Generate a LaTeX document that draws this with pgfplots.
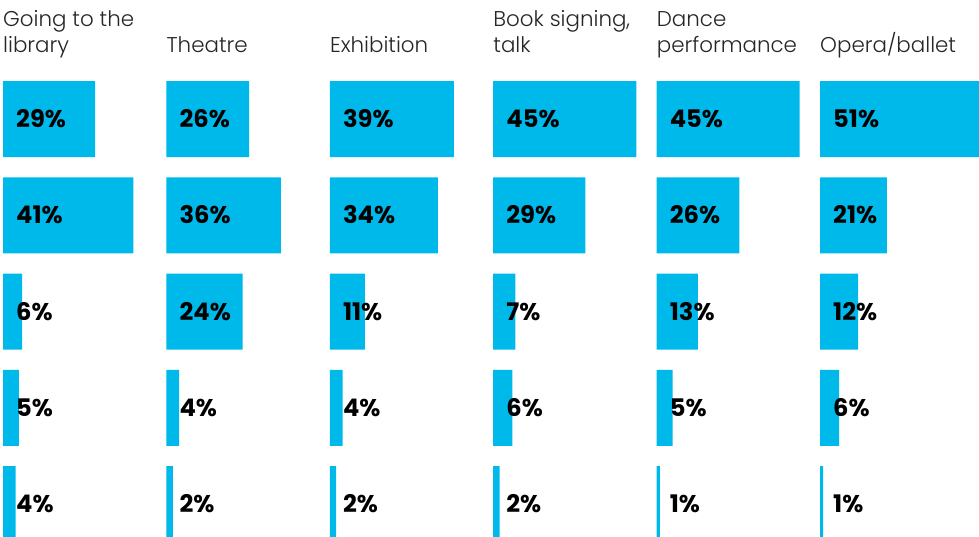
\documentclass[border=0pt]{standalone}
\usepackage{fontspec}
\setmainfont{Poppins}
\newfontfamily\lightfont{Poppins Light}
\usepackage{pgfplots}
\pgfplotsset{compat=1.18}
\usepackage{pgfplotstable}
\definecolor{barblue}{RGB}{0,185,235}
\definecolor{titlegray}{RGB}{38,38,38}

\pgfplotstableread{
row val
0 29
1 41
2 6
3 5
4 4
}\tlibrary
\pgfplotstableread{
row val
0 26
1 36
2 24
3 4
4 2
}\ttheatre
\pgfplotstableread{
row val
0 39
1 34
2 11
3 4
4 2
}\texhibition
\pgfplotstableread{
row val
0 45
1 29
2 7
3 6
4 2
}\tbook
\pgfplotstableread{
row val
0 45
1 26
2 13
3 5
4 1
}\tdance
\pgfplotstableread{
row val
0 51
1 21
2 12
3 6
4 1
}\topera

\newcommand\panel[4]{%
\begin{axis}[
  at={(3pt+#1*163.4pt,-70.875pt)}, anchor=north west,
  scale only axis, width=163.4pt, height=481.25pt,
  xmin=0, xmax=51.38, ymin=-0.5, ymax=4.5, y dir=reverse,
  hide axis, clip=false]
\addplot[xbar, bar width=76pt, bar shift=0pt, fill=barblue, draw=none]
  table[x=val, y=row]{#2};
\addplot[draw=none, mark=none, point meta=explicit symbolic,
  nodes near coords={\pgfplotspointmeta\%},
  every node near coord/.append style={anchor=base west, xshift=13pt, yshift=-8.7pt,
    inner sep=0pt, text=black, font=\fontsize{24.2pt}{26pt}\selectfont\bfseries}]
  table[x expr=0, y=row, meta=val]{#2};
\node[anchor=base west, inner sep=0pt, text=titlegray, font=\lightfont\fontsize{21.4pt}{24pt}\selectfont]
  at (axis cs:0,-0.5) [yshift=44.2pt] {#3};
\node[anchor=base west, inner sep=0pt, text=titlegray, font=\lightfont\fontsize{21.4pt}{24pt}\selectfont]
  at (axis cs:0,-0.5) [yshift=18.6pt] {#4};
\end{axis}}

\begin{document}
\begin{tikzpicture}
\path[use as bounding box] (0,0) rectangle (979pt,-537pt);
\panel{0}{\tlibrary}{Going to the}{library}
\panel{1}{\ttheatre}{}{Theatre}
\panel{2}{\texhibition}{}{Exhibition}
\panel{3}{\tbook}{Book signing,}{talk}
\panel{4}{\tdance}{Dance}{performance}
\panel{5}{\topera}{}{Opera/ballet}
\end{tikzpicture}
\end{document}
